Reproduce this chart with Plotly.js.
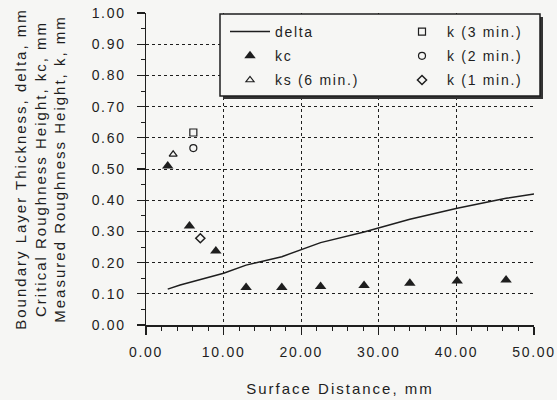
<!DOCTYPE html>
<html>
<head>
<meta charset="utf-8">
<script src="https://cdn.plot.ly/plotly-3.0.1.min.js"></script>
<style>
  html, body { margin: 0; padding: 0; background: #f6f6f4; }
  #chart { width: 557px; height: 400px; }
  svg text { letter-spacing: 1.7px; }
  .g-xtitle text, .g-ytitle text { letter-spacing: 2px; }
</style>
</head>
<body>
<div id="chart"></div>
<script>
// Boundary layer thickness (delta)
const deltaX = [2.8, 4.4, 10.0, 12.9, 17.5, 22.5, 28.1, 34.0, 40.1, 46.4, 50.0];
const deltaY = [0.115, 0.128, 0.166, 0.192, 0.219, 0.264, 0.298, 0.339, 0.374, 0.406, 0.420];

// Critical roughness height (kc)
const kcX = [2.8, 5.6, 9.0, 12.9, 17.5, 22.5, 28.1, 34.0, 40.1, 46.4];
const kcY = [0.510, 0.317, 0.237, 0.120, 0.120, 0.123, 0.127, 0.134, 0.141, 0.144];

// Measured roughness heights
const ks6X = [3.5];  const ks6Y = [0.547];
const k3X  = [6.1];  const k3Y  = [0.617];
const k2X  = [6.1];  const k2Y  = [0.567];
const k1X  = [7.0];  const k1Y  = [0.278];

const xTickVals = [0, 10, 20, 30, 40, 50];
const xTickText = ["0.00", "10.00", "20.00", "30.00", "40.00", "50.00"];
const yTickVals = [0, 0.1, 0.2, 0.3, 0.4, 0.5, 0.6, 0.7, 0.8, 0.9, 1.0];
const yTickText = ["0.00", "0.10", "0.20", "0.30", "0.40", "0.50", "0.60", "0.70", "0.80", "0.90", "1.00"];

const ink = '#1e1e1e';
const bg = '#f6f6f4';

// helper: pixel -> paper for layout decoration (legend frame)
const M = {l: 146, r: 23, t: 13, b: 75};
const W = 557, H = 400;
const pw = W - M.l - M.r, ph = H - M.t - M.b;
const px = p => (p - M.l) / pw;
const py = p => (H - M.b - p) / ph;

const traces = [
  {name: 'delta', x: deltaX, y: deltaY, mode: 'lines', line: {color: ink, width: 1.5},
   legend: 'legend', legendgroup: 'g1'},
  {name: 'kc', x: kcX, y: kcY, mode: 'markers',
   marker: {symbol: 'triangle-up', size: 10, color: ink},
   legend: 'legend', legendgroup: 'g2'},
  {name: 'ks (6 min.)', x: ks6X, y: ks6Y, mode: 'markers',
   marker: {symbol: 'triangle-up-open', size: 7, color: ink, line: {width: 1.2}},
   legend: 'legend', legendgroup: 'g3'},
  {name: 'k (3 min.)', x: k3X, y: k3Y, mode: 'markers',
   marker: {symbol: 'square-open', size: 7, color: ink, line: {width: 1.2}},
   legend: 'legend2', legendgroup: 'g4'},
  {name: 'k (2 min.)', x: k2X, y: k2Y, mode: 'markers',
   marker: {symbol: 'circle-open', size: 7, color: ink, line: {width: 1.2}},
   legend: 'legend2', legendgroup: 'g5'},
  {name: 'k (1 min.)', x: k1X, y: k1Y, mode: 'markers',
   marker: {symbol: 'diamond-open', size: 7, color: ink, line: {width: 1.5}},
   legend: 'legend2', legendgroup: 'g6'}
];

const fontFam = '"Liberation Sans", Arial, Helvetica, sans-serif';

const legendBase = {
  orientation: 'v', xanchor: 'left', yanchor: 'top',
  bgcolor: 'rgba(0,0,0,0)', borderwidth: 0, itemwidth: 40,
  tracegroupgap: 3, traceorder: 'grouped',
  font: {size: 14, color: ink, family: fontFam}
};

const layout = {
  width: W, height: H,
  margin: {l: M.l, r: M.r, t: M.t, b: M.b},
  paper_bgcolor: bg, plot_bgcolor: bg,
  font: {family: fontFam, color: ink, size: 14},
  showlegend: true,
  legend: Object.assign({}, legendBase, {x: px(225), y: py(16)}),
  legend2: Object.assign({}, legendBase, {x: px(397), y: py(16)}),
  xaxis: {
    range: [0, 50], tickvals: xTickVals, ticktext: xTickText,
    showline: true, linecolor: ink, linewidth: 1.5, mirror: false,
    ticks: 'outside', ticklen: 8, tickwidth: 1.2, tickcolor: ink,
    minor: {dtick: 2, ticks: 'outside', ticklen: 4, tickwidth: 1, tickcolor: ink, showgrid: false},
    showgrid: true, gridcolor: ink, griddash: 'dot', gridwidth: 1,
    zeroline: false, ticklabelstandoff: 6,
    tickfont: {size: 14},
    title: {text: 'Surface Distance, mm', font: {size: 15}, standoff: 24}
  },
  yaxis: {
    range: [0, 1], tickvals: yTickVals, ticktext: yTickText,
    showline: true, linecolor: ink, linewidth: 1.5, mirror: false,
    ticks: 'outside', ticklen: 8, tickwidth: 1.2, tickcolor: ink,
    minor: {dtick: 0.05, ticks: 'outside', ticklen: 4, tickwidth: 1, tickcolor: ink, showgrid: false},
    showgrid: true, gridcolor: ink, griddash: 'dot', gridwidth: 1,
    zeroline: false, ticklabelstandoff: 8,
    tickfont: {size: 14},
    title: {text: 'Boundary Layer Thickness, delta, mm<br>Critical Roughness Height, kc, mm<br>Measured Roughness Height, k, mm',
            font: {size: 15}, standoff: 22}
  },
  shapes: [
    {type: 'rect', xref: 'paper', yref: 'paper', layer: 'above',
     x0: px(223), x1: px(543), y0: py(99), y1: py(17),
     fillcolor: '#333', line: {width: 0}},
    {type: 'rect', xref: 'paper', yref: 'paper', layer: 'above',
     x0: px(220), x1: px(540), y0: py(96), y1: py(14),
     fillcolor: bg, line: {color: ink, width: 1.5}}
  ]
};

Plotly.newPlot('chart', traces, layout, {displayModeBar: false, staticPlot: true});
</script>
</body>
</html>
